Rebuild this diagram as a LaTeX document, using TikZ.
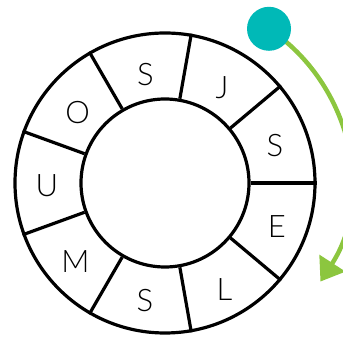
\documentclass[tikz,border=0pt]{standalone}
\usepackage{fontspec}
\setmainfont{Lato Light}
\usetikzlibrary{arrows.meta}
\definecolor{ringteal}{HTML}{00B9B7}
\definecolor{ringgreen}{HTML}{8CC63F}
\begin{document}
\begin{tikzpicture}[x=1pt, y=1pt]
    \useasboundingbox (-165pt,-154pt) rectangle (178pt,183pt);
    \begin{scope}[ring/.style={draw, circle, line width=3.2pt, inner sep=0pt},
                  letter/.style={font=\fontsize{31}{31}\selectfont, yshift=-3pt},
                  line width=3.2pt]
        % direction of reading
        \coordinate (start) at (56:186pt);
        \draw[ringgreen, line width=4.5pt, -{Triangle[length=22pt, width=30pt]}] (start) arc[start angle=56, end angle=-33, radius=184pt];
        \node[fill=ringteal, circle, minimum size=44pt, inner sep=0pt] (dot) at (start) {};
        % the wheel
        \node[ring, minimum size=300pt] (outer) at (0, 0) {};
        \node[ring, minimum size=168pt] (inner) at (0, 0) {};
        \draw (inner.0) -- (outer.0);
        \draw (inner.40) -- (outer.40);
        \draw (inner.80) -- (outer.80);
        \draw (inner.120) -- (outer.120);
        \draw (inner.160) -- (outer.160);
        \draw (inner.200) -- (outer.200);
        \draw (inner.240) -- (outer.240);
        \draw (inner.280) -- (outer.280);
        \draw (inner.320) -- (outer.320);
        % letters
        \node[letter] (s1) at (100:113pt) {S};
        \node[letter] (j) at (60:114pt) {J};
        \node[letter] (s2) at (20:117pt) {S};
        \node[letter] (e) at (-20:119pt) {E};
        \node[letter] (l) at (-60:119pt) {L};
        \node[letter] (s3) at (-100:116pt) {S};
        \node[letter] (m) at (-140:117pt) {M};
        \node[letter] (u) at (180:118pt) {U};
        \node[letter] (o) at (140:114pt) {O};
    \end{scope}
\end{tikzpicture}
\end{document}
